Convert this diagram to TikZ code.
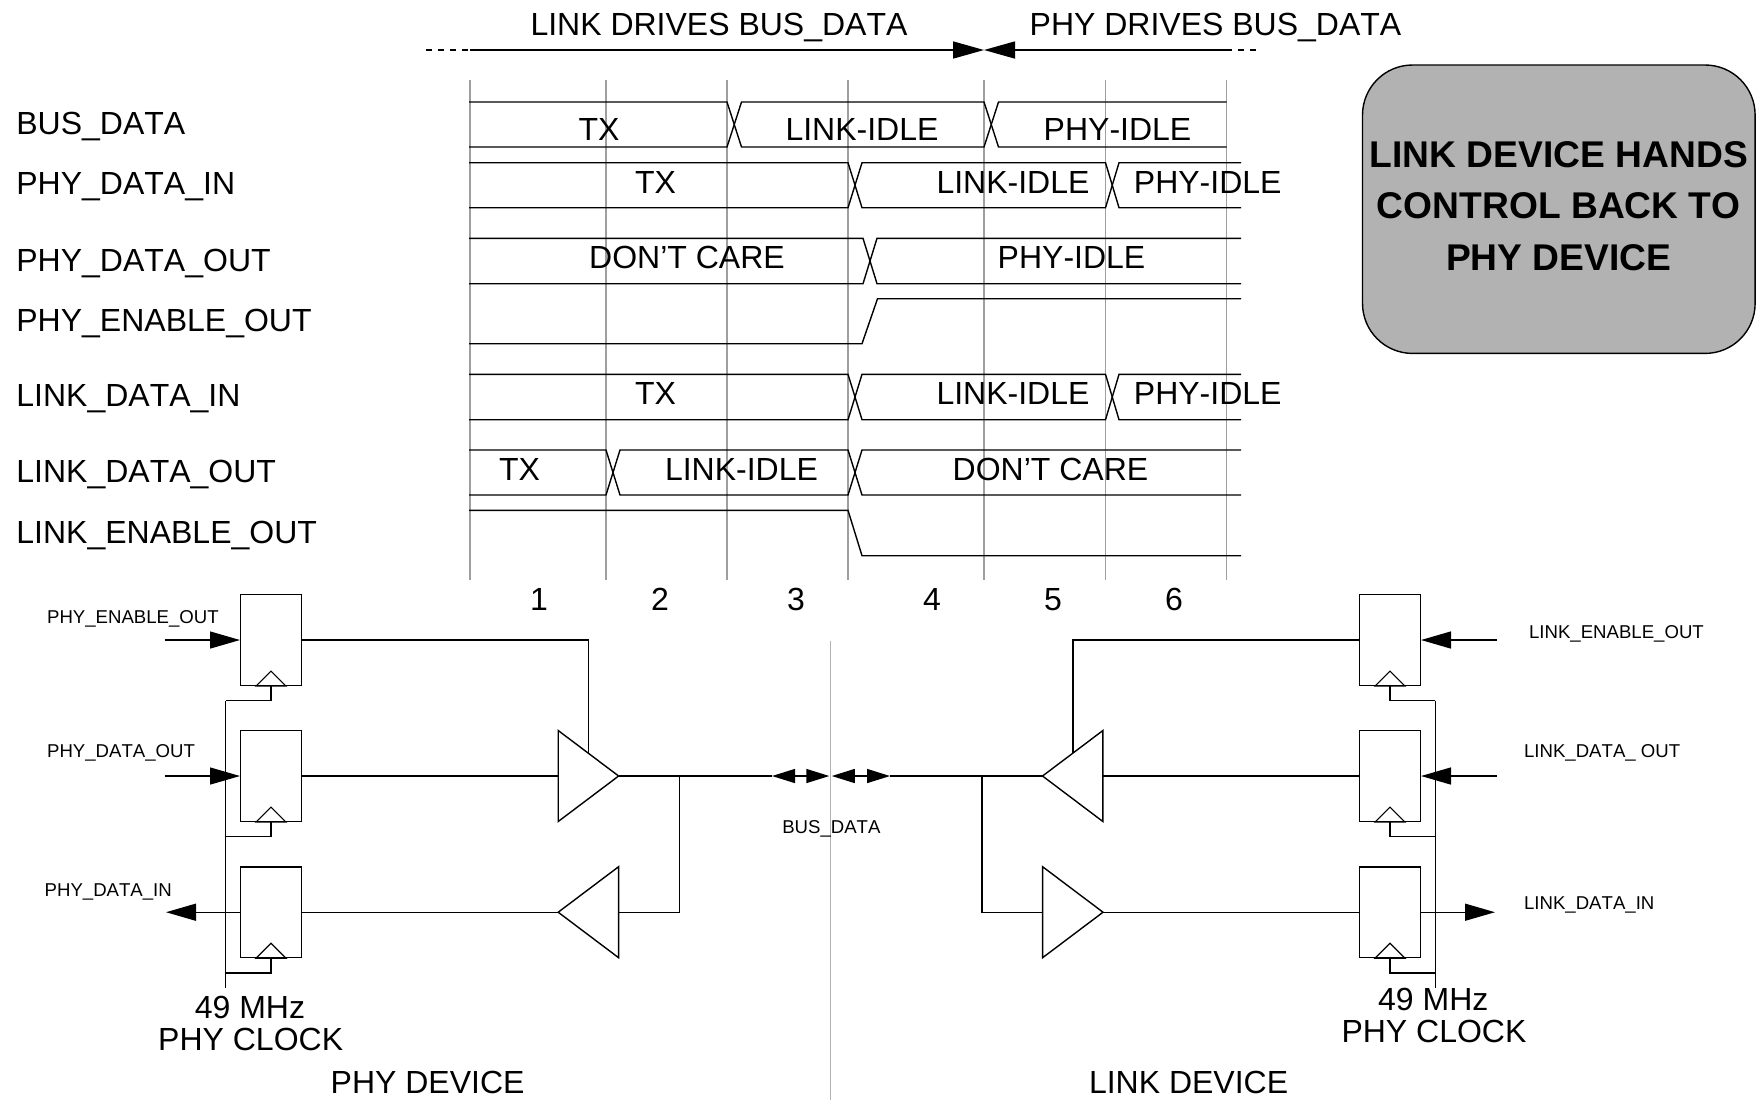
\documentclass[tikz,border=0pt]{standalone}
\usepackage{fontspec}
\setmainfont[Kerning=Off]{Liberation Sans}
\usetikzlibrary{arrows.meta,shapes.geometric}

\begin{document}
\begin{tikzpicture}[
    x=0.5pt, y=-0.5pt,
    big/.style={inner sep=0pt, text height=11.4pt, text depth=0pt, font=\fontsize{16}{18}\selectfont},
    small/.style={inner sep=0pt, text height=7pt, text depth=0pt, anchor=west, font=\fontsize{9.3}{11}\selectfont},
    sig/.style={line width=0.7pt, black},
    grid/.style={line width=0.7pt, gray!75},
    reg/.style={rectangle, draw, line width=0.7pt, inner sep=0pt, minimum width=30.3pt, minimum height=45.4pt},
    buf/.style={isosceles triangle, isosceles triangle stretches, draw, line width=0.7pt, inner sep=0pt, outer sep=0pt, minimum width=45.5pt, minimum height=30.2pt},
    clk/.style={isosceles triangle, isosceles triangle stretches, shape border rotate=90, draw, line width=0.6pt, inner sep=0pt, outer sep=0pt, minimum width=15pt, minimum height=7.5pt, anchor=lower side},
    pin/.style={-{Triangle[length=15pt, width=8.5pt]}, line width=0.7pt},
    tip/.style={-{Triangle[length=15.5pt, width=8.5pt]}, line width=0.8pt},
    bustip/.style={-{Triangle[length=11.5pt, width=7pt]}, line width=0.7pt}
]
\useasboundingbox (0,0) rectangle (1760,1100);

% Top arrows
\coordinate (linkfrom) at (470,50);
\coordinate (phyfrom) at (1226,50);
\coordinate (meet) at (984,50);
\coordinate (linkdash) at (426,50);
\coordinate (phydash) at (1257,50);
\node[big] (linkdrives) at (719,24) {LINK DRIVES BUS\_DATA};
\node[big] (phydrives) at (1215.5,24) {PHY DRIVES BUS\_DATA};
\draw[tip] (linkfrom) -- (meet);
\draw[tip] (phyfrom) -- (meet);
\draw[sig, dashed] (linkdash) -- (linkfrom);
\draw[sig, dashed] (phyfrom) -- (phydash);

% Clock lines
\draw[grid] (470,80) -- (470,580);
\draw[grid] (606,80) -- (606,580);
\draw[grid] (727,80) -- (727,580);
\draw[grid] (848,80) -- (848,580);
\draw[grid] (984,80) -- (984,580);
\draw[grid] (1105.5,80) -- (1105.5,580);
\draw[grid] (1226.5,80) -- (1226.5,580);
\node[big] (one) at (539,599) {1};
\node[big] (two) at (660,599) {2};
\node[big] (three) at (796,599) {3};
\node[big] (four) at (932,599) {4};
\node[big] (five) at (1053,599) {5};
\node[big] (six) at (1174,599) {6};

% Signal names
\node[big, anchor=west] (busname) at (16,123.5) {BUS\_DATA};
\node[big, anchor=west] (phyinname) at (16,183) {PHY\_DATA\_IN};
\node[big, anchor=west] (phyoutname) at (16,260) {PHY\_DATA\_OUT};
\node[big, anchor=west] (phyenname) at (16,320) {PHY\_ENABLE\_OUT};
\node[big, anchor=west] (linkinname) at (16,395) {LINK\_DATA\_IN};
\node[big, anchor=west] (linkoutname) at (16,471) {LINK\_DATA\_OUT};
\node[big, anchor=west] (linkenname) at (16,532) {LINK\_ENABLE\_OUT};

% BUS_DATA wave
\draw[sig] (469,102) -- (727,102) -- (741.5,147) -- (984,147) -- (998.5,102) -- (1226.5,102);
\draw[sig] (469,147) -- (727,147) -- (741.5,102) -- (984,102) -- (998.5,147) -- (1226.5,147);
\node[big] (bustx) at (599,129) {TX};
\node[big] (buslink) at (862,129) {LINK-IDLE};
\node[big] (busphy) at (1117.5,129) {PHY-IDLE};

% PHY_DATA_IN wave
\draw[sig] (469,162.7) -- (848,162.7) -- (862,207.7) -- (1105.5,207.7) -- (1119,162.7) -- (1241,162.7);
\draw[sig] (469,207.7) -- (848,207.7) -- (862,162.7) -- (1105.5,162.7) -- (1119,207.7) -- (1241,207.7);
\node[big] (phyintx) at (655.5,181.7) {TX};
\node[big] (phyinlink) at (1013,181.7) {LINK-IDLE};
\node[big] (phyinphy) at (1207.7,181.7) {PHY-IDLE};

% PHY_DATA_OUT wave
\draw[sig] (469,238.3) -- (863,238.3) -- (877,283.7) -- (1241,283.7);
\draw[sig] (469,283.7) -- (863,283.7) -- (877,238.3) -- (1241,238.3);
\node[big] (phyoutcare) at (687,257) {DON’T CARE};
\node[big] (phyoutphy) at (1071.5,257) {PHY-IDLE};

% PHY_ENABLE_OUT wave
\draw[sig] (469,343.7) -- (862,343.7) -- (877.5,298.7) -- (1241,298.7);

% LINK_DATA_IN wave
\draw[sig] (469,374.3) -- (848,374.3) -- (862,419.7) -- (1105.5,419.7) -- (1119,374.3) -- (1241,374.3);
\draw[sig] (469,419.7) -- (848,419.7) -- (862,374.3) -- (1105.5,374.3) -- (1119,419.7) -- (1241,419.7);
\node[big] (linkintx) at (655.5,393) {TX};
\node[big] (linkinlink) at (1013,393) {LINK-IDLE};
\node[big] (linkinphy) at (1207.7,393) {PHY-IDLE};

% LINK_DATA_OUT wave
\draw[sig] (469,450) -- (606,450) -- (620,495) -- (848,495) -- (862,450) -- (1241,450);
\draw[sig] (469,495) -- (606,495) -- (620,450) -- (848,450) -- (862,495) -- (1241,495);
\node[big] (linkouttx) at (519.5,468.7) {TX};
\node[big] (linkoutlink) at (741.5,468.7) {LINK-IDLE};
\node[big] (linkoutcare) at (1050.5,468.7) {DON’T CARE};

% LINK_ENABLE_OUT wave
\draw[sig] (469,510.3) -- (848,510.3) -- (862,555.7) -- (1241,555.7);

% Note
\node[draw, fill=black!30, line width=0.7pt, rectangle, rounded corners=25pt, minimum width=196.3pt, minimum height=144.2pt] (note) at (1558.8,209.2) {};
\node[align=center, inner sep=0pt, font=\fontsize{18.6}{25.9}\selectfont\bfseries] (notetext) at (1558.8,206) {LINK DEVICE HANDS\\CONTROL BACK TO\\PHY DEVICE};

% PHY device
\node[reg] (phyenreg) at (271,640) {};
\node[reg] (phyoutreg) at (271,776) {};
\node[reg] (phyinreg) at (271,912.2) {};
\node[clk] (phyenclk) at (phyenreg.south) {};
\node[clk] (phyoutclk) at (phyoutreg.south) {};
\node[clk] (phyinclk) at (phyinreg.south) {};
\node[buf, anchor=apex] (phyoutbuf) at (618.6,776) {};
\node[buf, shape border rotate=180, anchor=apex] (phyinbuf) at (558.2,912.2) {};
\node[small] (phyenlabel) at (46.7,616.7) {PHY\_ENABLE\_OUT};
\node[small] (phyoutlabel) at (46.7,750.7) {PHY\_DATA\_OUT};
\node[small] (phyinlabel) at (44.3,889.7) {PHY\_DATA\_IN};
\coordinate (phyenfrom) at (164.7,640);
\coordinate (phyoutfrom) at (164.7,776);
\coordinate (phyinto) at (166,912.2);
\coordinate (phyclktop) at (225.7,700.7);
\coordinate (phyclkmid) at (225.7,836.7);
\coordinate (phyclklow) at (225.7,973);
\coordinate (phyclkend) at (225.7,988.3);
\coordinate (phyenbend) at (588.6,640);
\coordinate (phyenend) at (588.6,752.7);
\coordinate (phyjoin) at (679.3,776);
\coordinate (phyjoinlow) at (679.3,912.2);
\node[big] (phymhz) at (250,1007) {49 MHz};
\node[big] (phyclock) at (250.7,1039) {PHY CLOCK};
\node[big] (phydevice) at (427.6,1082) {PHY DEVICE};
\draw[pin] (phyenfrom) -- (phyenreg.west);
\draw[pin] (phyoutfrom) -- (phyoutreg.west);
\draw[pin] (phyinreg.west) -- (phyinto);
\draw[sig] (phyclktop) -- (phyclkend);
\draw[sig] (phyenreg.south) |- (phyclktop);
\draw[sig] (phyoutreg.south) |- (phyclkmid);
\draw[sig] (phyinreg.south) |- (phyclklow);
\draw[sig] (phyenreg.east) -- (phyenbend) -- (phyenend);
\draw[sig] (phyoutreg.east) -- (phyoutbuf.lower side);
\draw[sig] (phyinreg.east) -- (phyinbuf.apex);
\draw[sig] (phyoutbuf.apex) -- (phyjoin);
\draw[sig] (phyjoin) -- (phyjoinlow) -- (phyinbuf.lower side);

% BUS_DATA arrows
\coordinate (busa) at (772,776);
\coordinate (busb) at (829.3,776);
\coordinate (busc) at (831.8,776);
\coordinate (busd) at (890,776);
\coordinate (busmidl) at (800,776);
\coordinate (busmidr) at (861,776);
\draw[sig] (phyjoin) -- (busa);
\draw[bustip] (busmidl) -- (busa);
\draw[bustip] (busmidl) -- (busb);
\draw[bustip] (busmidr) -- (busc);
\draw[bustip] (busmidr) -- (busd);
\coordinate (divtop) at (830.7,641);
\coordinate (divend) at (830.7,1100);
\draw[line width=0.7pt, black!30] (divtop) -- (divend);
\node[small, anchor=center] (buslabel) at (831.4,826.7) {BUS\_DATA};

% LINK device
\node[reg] (linkenreg) at (1390,640) {};
\node[reg] (linkoutreg) at (1390,776) {};
\node[reg] (linkinreg) at (1390,912.2) {};
\node[clk] (linkenclk) at (linkenreg.south) {};
\node[clk] (linkoutclk) at (linkoutreg.south) {};
\node[clk] (linkinclk) at (linkinreg.south) {};
\node[buf, shape border rotate=180, anchor=apex] (linkoutbuf) at (1042.5,776) {};
\node[buf, anchor=apex] (linkinbuf) at (1103,912.2) {};
\node[small] (linkenlabel) at (1528.7,631.7) {LINK\_ENABLE\_OUT};
\node[small] (linkoutlabel) at (1523.7,750.7) {LINK\_DATA\_ OUT};
\node[small] (linkinlabel) at (1523.7,902.7) {LINK\_DATA\_IN};
\coordinate (linkenfrom) at (1496.7,640);
\coordinate (linkoutfrom) at (1496.7,776);
\coordinate (linkinto) at (1495,912.2);
\coordinate (linkclktop) at (1435.3,700.7);
\coordinate (linkclkmid) at (1435.3,836.7);
\coordinate (linkclklow) at (1435.3,973);
\coordinate (linkclkend) at (1435.3,988.3);
\coordinate (linkenbend) at (1072.9,640);
\coordinate (linkenend) at (1072.9,752.7);
\coordinate (linkjoin) at (981.8,776);
\coordinate (linkjoinlow) at (981.8,912.2);
\node[big] (linkmhz) at (1433.3,999) {49 MHz};
\node[big] (linkclock) at (1434,1030.7) {PHY CLOCK};
\node[big] (linkdevice) at (1188.6,1082) {LINK DEVICE};
\draw[pin] (linkenfrom) -- (linkenreg.east);
\draw[pin] (linkoutfrom) -- (linkoutreg.east);
\draw[pin] (linkinreg.east) -- (linkinto);
\draw[sig] (linkclktop) -- (linkclkend);
\draw[sig] (linkenreg.south) |- (linkclktop);
\draw[sig] (linkoutreg.south) |- (linkclkmid);
\draw[sig] (linkinreg.south) |- (linkclklow);
\draw[sig] (linkenreg.west) -- (linkenbend) -- (linkenend);
\draw[sig] (linkoutreg.west) -- (linkoutbuf.lower side);
\draw[sig] (linkinreg.west) -- (linkinbuf.apex);
\draw[sig] (busd) -- (linkoutbuf.apex);
\draw[sig] (linkjoin) -- (linkjoinlow) -- (linkinbuf.lower side);

\end{tikzpicture}
\end{document}
